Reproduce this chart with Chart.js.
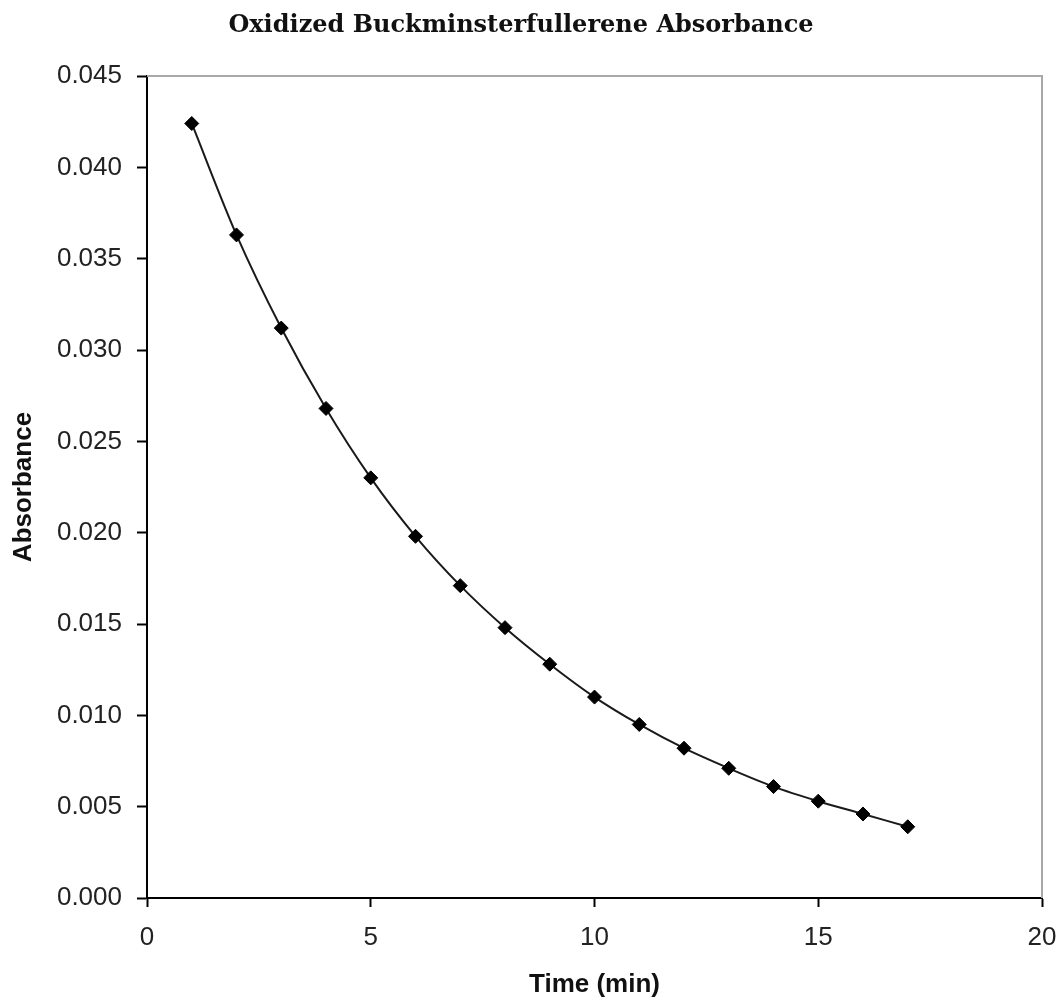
<!DOCTYPE html>
<html>
<head>
<meta charset="utf-8">
<script src="https://cdn.jsdelivr.net/npm/chart.js@4/dist/chart.umd.min.js"></script>
<style>
  html, body { margin: 0; padding: 0; background: #fff; }
  #wrap { width: 1057px; height: 1001px; }
</style>
</head>
<body>
<div id="wrap"><canvas id="absChart" width="1057" height="1001"></canvas></div>
<script>
// Absorbance readings, one per minute
const times = [1, 2, 3, 4, 5, 6, 7, 8, 9, 10, 11, 12, 13, 14, 15, 16, 17];
const absorbance = [0.0424, 0.0363, 0.0312, 0.0268, 0.0230, 0.0198, 0.0171, 0.0148,
    0.0128, 0.0110, 0.0095, 0.0082, 0.0071, 0.0061, 0.0053, 0.0046, 0.0039];
const xTicks = [0, 5, 10, 15, 20];
const yTicks = [0, 0.005, 0.01, 0.015, 0.02, 0.025, 0.03, 0.035, 0.04, 0.045];

// gray top/right edges of the plot box
const boxPlugin = {
    id: 'boxEdges',
    afterDraw(chart) {
        const { ctx, chartArea: a } = chart;
        ctx.save();
        ctx.strokeStyle = '#a8a8a8';
        ctx.lineWidth = 2;
        ctx.beginPath();
        ctx.moveTo(a.left, a.top);
        ctx.lineTo(a.right, a.top);
        ctx.lineTo(a.right, a.bottom);
        ctx.stroke();
        ctx.restore();
    }
};

function initAbsChart() {
    const ctx = document.getElementById('absChart');
    new Chart(ctx.getContext('2d'), {
        type: 'scatter',
        data: {
            datasets: [{
                label: 'Absorbance',
                data: times.map((t, i) => ({ x: t, y: absorbance[i] })),
                showLine: true,
                borderColor: '#1a1a1a',
                borderWidth: 2,
                cubicInterpolationMode: 'monotone',
                pointStyle: 'rectRot',
                pointRadius: 7,
                pointBorderWidth: 1,
                pointBackgroundColor: '#000',
                pointBorderColor: '#000'
            }]
        },
        options: {
            responsive: false,
            animation: false,
            layout: { autoPadding: false, padding: { left: 0, right: 15, top: 0, bottom: 0 } },
            plugins: {
                legend: { display: false },
                tooltip: { enabled: false },
                title: {
                    display: true,
                    text: 'Oxidized Buckminsterfullerene Absorbance',
                    font: { family: '"DejaVu Serif"', size: 24, weight: 'bold' },
                    color: '#111',
                    padding: { top: 11, bottom: 36.2 }
                }
            },
            scales: {
                x: {
                    type: 'linear',
                    min: 0,
                    max: 20,
                    afterBuildTicks: s => { s.ticks = xTicks.map(v => ({ value: v })); },
                    afterFit: s => { s.height = 103; s.paddingLeft = 0; s.paddingRight = 0; },
                    grid: { drawOnChartArea: false, tickLength: 9, tickColor: '#000', tickWidth: 2 },
                    border: { color: '#000', width: 2 },
                    ticks: {
                        font: { family: '"Liberation Sans"', size: 26 },
                        color: '#222',
                        padding: 15,
                        maxRotation: 0
                    },
                    title: {
                        display: true,
                        text: 'Time (min)',
                        font: { family: '"Liberation Sans"', size: 26, weight: 'bold' },
                        color: '#111',
                        padding: { top: 0, bottom: 1 }
                    }
                },
                y: {
                    min: 0,
                    max: 0.045,
                    afterBuildTicks: s => { s.ticks = yTicks.map(v => ({ value: v })); },
                    afterFit: s => { s.width = 147; s.paddingTop = 0; s.paddingBottom = 0; },
                    grid: { drawOnChartArea: false, tickLength: 10, tickColor: '#000', tickWidth: 2 },
                    border: { color: '#000', width: 2 },
                    ticks: {
                        font: { family: '"Liberation Sans"', size: 26 },
                        color: '#222',
                        padding: 15,
                        callback: v => v.toFixed(3)
                    },
                    title: {
                        display: true,
                        text: 'Absorbance',
                        font: { family: '"Liberation Sans"', size: 26, weight: 'bold' },
                        color: '#111',
                        padding: { top: 8, bottom: 0 }
                    }
                }
            }
        },
        plugins: [boxPlugin]
    });
}

document.addEventListener('DOMContentLoaded', initAbsChart);
</script>
</body>
</html>
